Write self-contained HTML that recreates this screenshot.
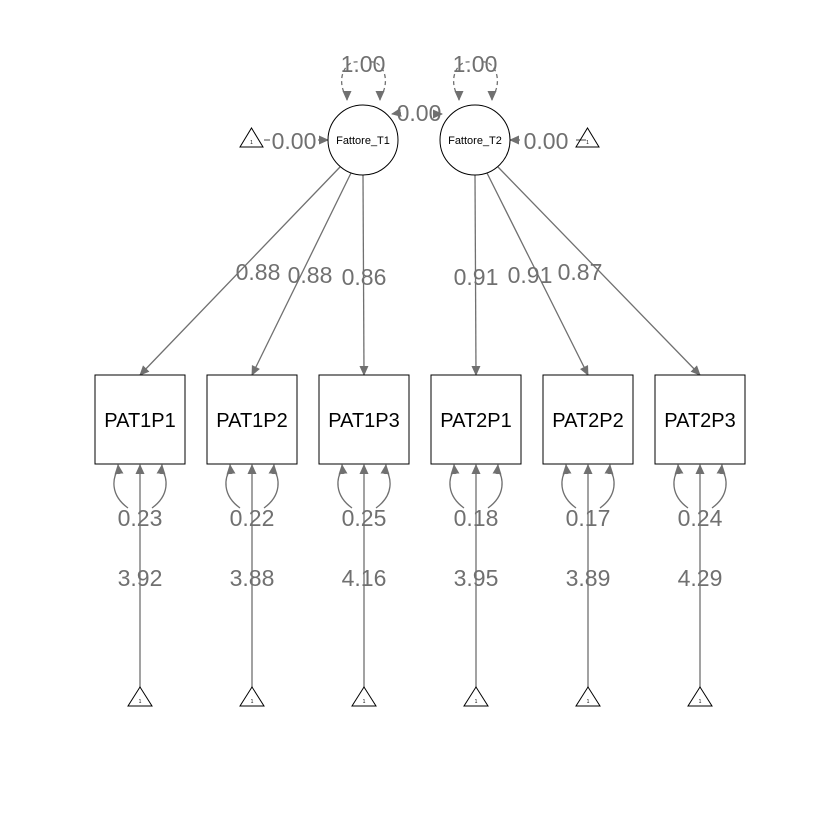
<!DOCTYPE html>
<html><head><style>body{margin:0;background:#fff}svg{display:block}</style></head>
<body>
<svg width="840" height="840" viewBox="0 0 840 840" xmlns="http://www.w3.org/2000/svg" font-family="Liberation Sans, sans-serif">
<defs>
<marker id="a" markerWidth="10" markerHeight="10" refX="9" refY="5" orient="auto" markerUnits="userSpaceOnUse"><path d="M0,0.5 L10,5 L0,9.5 Z" fill="#707070"/></marker>
</defs>
<rect width="840" height="840" fill="#fff"/>
<g stroke="#707070" stroke-width="1.3" fill="none">
<path d="M347,98 C335,80 345,60 358,62" stroke-dasharray="4,3"/>
<path d="M347,98 L347,100" marker-end="url(#a)"/>
<path d="M380,98 C392,80 382,60 370,62" stroke-dasharray="4,3"/>
<path d="M380,98 L380,100" marker-end="url(#a)"/>
<path d="M459,98 C447,80 457,60 470,62" stroke-dasharray="4,3"/>
<path d="M459,98 L459,100" marker-end="url(#a)"/>
<path d="M492,98 C504,80 494,60 482,62" stroke-dasharray="4,3"/>
<path d="M492,98 L492,100" marker-end="url(#a)"/>
<path d="M398,113 L392,114" marker-end="url(#a)"/>
<path d="M436,114 L442,114" marker-end="url(#a)"/>
<line x1="264" y1="140" x2="270" y2="140"/>
<line x1="318" y1="140" x2="328" y2="140" marker-end="url(#a)"/>
<line x1="586" y1="140" x2="576" y2="140"/>
<line x1="520" y1="140" x2="510" y2="140" marker-end="url(#a)"/>
<line x1="340" y1="167" x2="140" y2="375" marker-end="url(#a)"/>
<line x1="351" y1="173" x2="252" y2="375" marker-end="url(#a)"/>
<line x1="363" y1="175" x2="364" y2="375" marker-end="url(#a)"/>
<line x1="475" y1="175" x2="476" y2="375" marker-end="url(#a)"/>
<line x1="487" y1="173" x2="588" y2="375" marker-end="url(#a)"/>
<line x1="498" y1="167" x2="700" y2="375" marker-end="url(#a)"/>
</g>
<g fill="none" stroke="#000" stroke-width="1">
<circle cx="363" cy="140" r="35" fill="#fff"/>
<circle cx="475" cy="140" r="35" fill="#fff"/>
<path d="M240,147 L263,147 L251.5,128 Z"/>
<path d="M576,147 L599,147 L587.5,128 Z"/>
</g>
<g font-size="11" text-anchor="middle" fill="#000">
<text x="363" y="144">Fattore_T1</text>
<text x="475" y="144">Fattore_T2</text>
<text x="251.5" y="144" font-size="5">1</text><text x="587.5" y="144" font-size="5">1</text>
</g>
<g font-size="23" fill="#707070" text-anchor="middle">
<text x="363" y="72">1.00</text>
<text x="475" y="72">1.00</text>
<text x="419" y="121">0.00</text>
<text x="294" y="149">0.00</text>
<text x="546" y="149">0.00</text>
<text x="258" y="280">0.88</text>
<text x="310" y="283">0.88</text>
<text x="364" y="285">0.86</text>
<text x="476" y="285">0.91</text>
<text x="530" y="283">0.91</text>
<text x="580" y="280">0.87</text>
</g>
<g transform="translate(140,0)"><g stroke="#707070" stroke-width="1.3" fill="none"><line x1="0" y1="690" x2="0" y2="465" marker-end="url(#a)"/><path d="M-12,508 C-30,495 -28,478 -21,468"/><path d="M-21,474 L-22,465" marker-end="url(#a)"/><path d="M12,508 C30,495 28,478 21,468"/><path d="M21,474 L22,465" marker-end="url(#a)"/></g><rect x="-45" y="375" width="90" height="89" fill="#fff" stroke="#000"/><text x="0" y="427" font-size="20" text-anchor="middle">PAT1P1</text><text x="0" y="526" font-size="23" text-anchor="middle" fill="#707070">0.23</text><text x="0" y="586" font-size="23" text-anchor="middle" fill="#707070">3.92</text><path d="M-12,706 L12,706 L0,687 Z" fill="#fff" stroke="#000"/><text x="0" y="703" font-size="5" text-anchor="middle">1</text></g>
<g transform="translate(252,0)"><g stroke="#707070" stroke-width="1.3" fill="none"><line x1="0" y1="690" x2="0" y2="465" marker-end="url(#a)"/><path d="M-12,508 C-30,495 -28,478 -21,468"/><path d="M-21,474 L-22,465" marker-end="url(#a)"/><path d="M12,508 C30,495 28,478 21,468"/><path d="M21,474 L22,465" marker-end="url(#a)"/></g><rect x="-45" y="375" width="90" height="89" fill="#fff" stroke="#000"/><text x="0" y="427" font-size="20" text-anchor="middle">PAT1P2</text><text x="0" y="526" font-size="23" text-anchor="middle" fill="#707070">0.22</text><text x="0" y="586" font-size="23" text-anchor="middle" fill="#707070">3.88</text><path d="M-12,706 L12,706 L0,687 Z" fill="#fff" stroke="#000"/><text x="0" y="703" font-size="5" text-anchor="middle">1</text></g>
<g transform="translate(364,0)"><g stroke="#707070" stroke-width="1.3" fill="none"><line x1="0" y1="690" x2="0" y2="465" marker-end="url(#a)"/><path d="M-12,508 C-30,495 -28,478 -21,468"/><path d="M-21,474 L-22,465" marker-end="url(#a)"/><path d="M12,508 C30,495 28,478 21,468"/><path d="M21,474 L22,465" marker-end="url(#a)"/></g><rect x="-45" y="375" width="90" height="89" fill="#fff" stroke="#000"/><text x="0" y="427" font-size="20" text-anchor="middle">PAT1P3</text><text x="0" y="526" font-size="23" text-anchor="middle" fill="#707070">0.25</text><text x="0" y="586" font-size="23" text-anchor="middle" fill="#707070">4.16</text><path d="M-12,706 L12,706 L0,687 Z" fill="#fff" stroke="#000"/><text x="0" y="703" font-size="5" text-anchor="middle">1</text></g>
<g transform="translate(476,0)"><g stroke="#707070" stroke-width="1.3" fill="none"><line x1="0" y1="690" x2="0" y2="465" marker-end="url(#a)"/><path d="M-12,508 C-30,495 -28,478 -21,468"/><path d="M-21,474 L-22,465" marker-end="url(#a)"/><path d="M12,508 C30,495 28,478 21,468"/><path d="M21,474 L22,465" marker-end="url(#a)"/></g><rect x="-45" y="375" width="90" height="89" fill="#fff" stroke="#000"/><text x="0" y="427" font-size="20" text-anchor="middle">PAT2P1</text><text x="0" y="526" font-size="23" text-anchor="middle" fill="#707070">0.18</text><text x="0" y="586" font-size="23" text-anchor="middle" fill="#707070">3.95</text><path d="M-12,706 L12,706 L0,687 Z" fill="#fff" stroke="#000"/><text x="0" y="703" font-size="5" text-anchor="middle">1</text></g>
<g transform="translate(588,0)"><g stroke="#707070" stroke-width="1.3" fill="none"><line x1="0" y1="690" x2="0" y2="465" marker-end="url(#a)"/><path d="M-12,508 C-30,495 -28,478 -21,468"/><path d="M-21,474 L-22,465" marker-end="url(#a)"/><path d="M12,508 C30,495 28,478 21,468"/><path d="M21,474 L22,465" marker-end="url(#a)"/></g><rect x="-45" y="375" width="90" height="89" fill="#fff" stroke="#000"/><text x="0" y="427" font-size="20" text-anchor="middle">PAT2P2</text><text x="0" y="526" font-size="23" text-anchor="middle" fill="#707070">0.17</text><text x="0" y="586" font-size="23" text-anchor="middle" fill="#707070">3.89</text><path d="M-12,706 L12,706 L0,687 Z" fill="#fff" stroke="#000"/><text x="0" y="703" font-size="5" text-anchor="middle">1</text></g>
<g transform="translate(700,0)"><g stroke="#707070" stroke-width="1.3" fill="none"><line x1="0" y1="690" x2="0" y2="465" marker-end="url(#a)"/><path d="M-12,508 C-30,495 -28,478 -21,468"/><path d="M-21,474 L-22,465" marker-end="url(#a)"/><path d="M12,508 C30,495 28,478 21,468"/><path d="M21,474 L22,465" marker-end="url(#a)"/></g><rect x="-45" y="375" width="90" height="89" fill="#fff" stroke="#000"/><text x="0" y="427" font-size="20" text-anchor="middle">PAT2P3</text><text x="0" y="526" font-size="23" text-anchor="middle" fill="#707070">0.24</text><text x="0" y="586" font-size="23" text-anchor="middle" fill="#707070">4.29</text><path d="M-12,706 L12,706 L0,687 Z" fill="#fff" stroke="#000"/><text x="0" y="703" font-size="5" text-anchor="middle">1</text></g>
</svg>
</body></html>
